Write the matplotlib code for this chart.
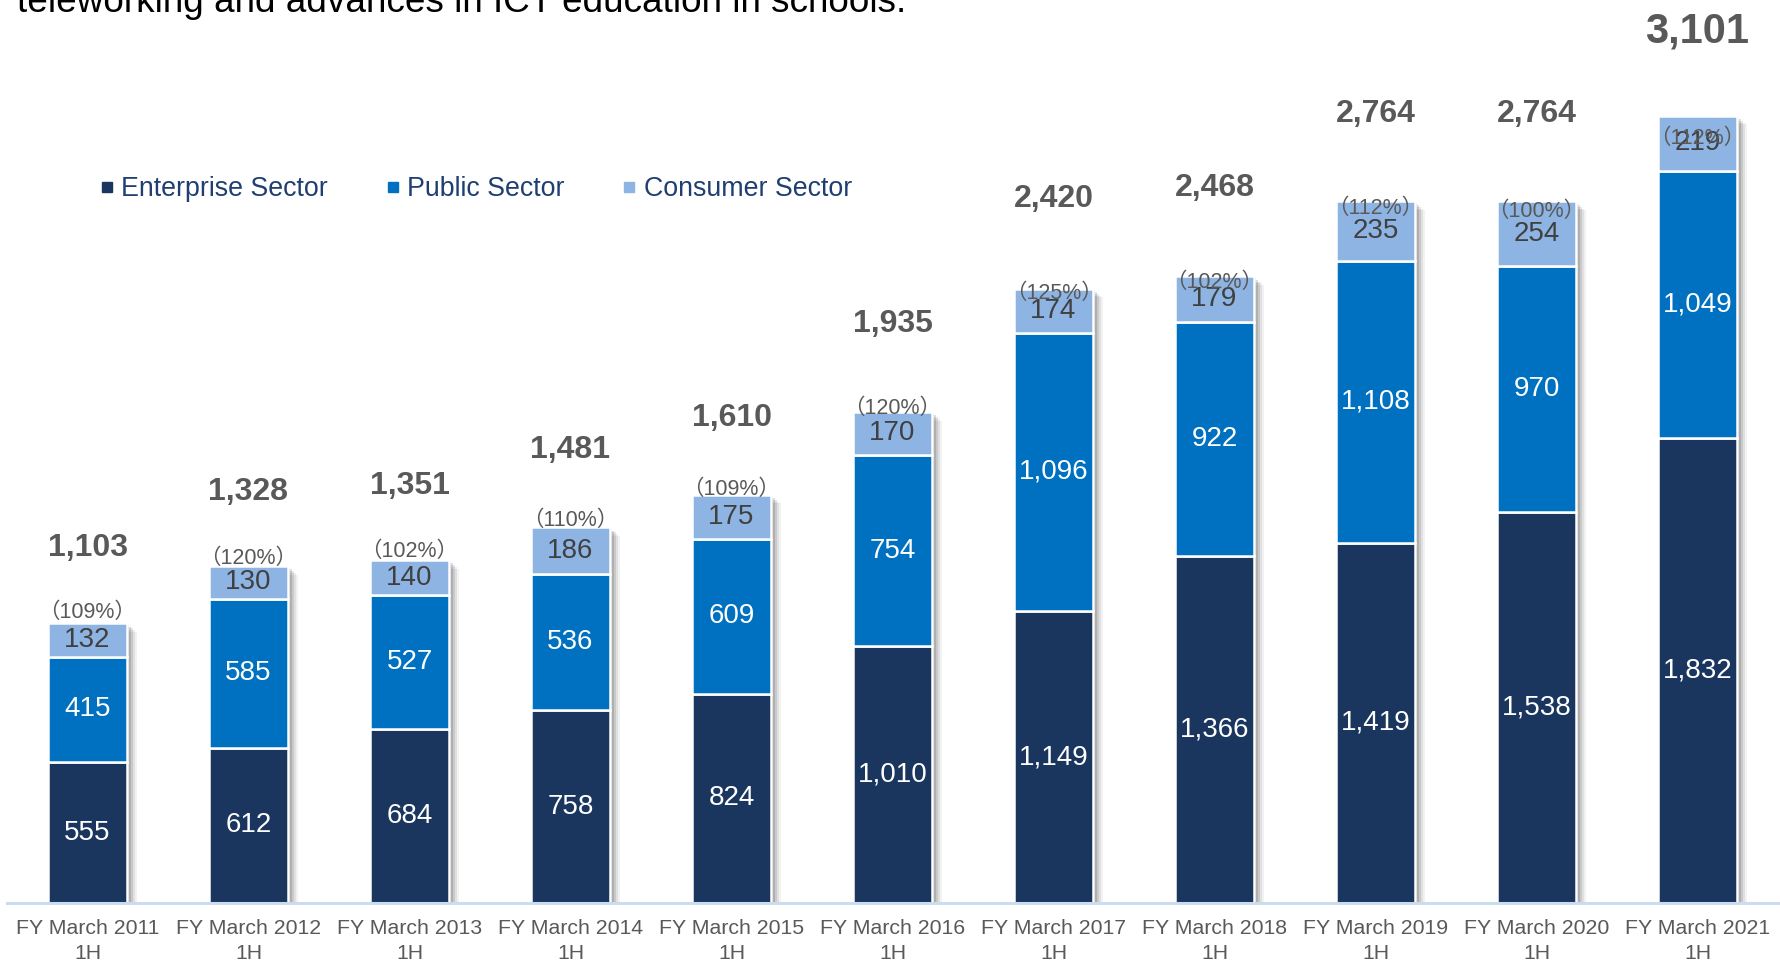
import numpy as np
import matplotlib
matplotlib.use('Agg')
import matplotlib.pyplot as plt
from matplotlib.lines import Line2D

# Half-year sales by sector (units as reported)
periods = ['FY March 2011', 'FY March 2012', 'FY March 2013', 'FY March 2014',
           'FY March 2015', 'FY March 2016', 'FY March 2017', 'FY March 2018',
           'FY March 2019', 'FY March 2020', 'FY March 2021']
enterprise = [555, 612, 684, 758, 824, 1010, 1149, 1366, 1419, 1538, 1832]
public = [415, 585, 527, 536, 609, 754, 1096, 922, 1108, 970, 1049]
consumer = [132, 130, 140, 186, 175, 170, 174, 179, 235, 254, 219]
totals = ['1,103', '1,328', '1,351', '1,481', '1,610', '1,935',
          '2,420', '2,468', '2,764', '2,764', '3,101']
yoy = ['109%', '120%', '102%', '110%', '109%', '120%',
       '125%', '102%', '112%', '100%', '112%']

# label layout, in pixels above the bar top
total_gap_px = [75, 74, 74, 77, 77, 88, 90, 88, 87, 87, 84]
yoy_gap_px = [11, 8, 8, 7, 5, 3, -5, -6, -7, -10, -23]

C_ENT = '#1b365e'
C_PUB = '#0070c0'
C_CON = '#8eb4e3'
GREY = '#595959'

plt.rcParams['font.family'] = ['Liberation Sans', 'Noto Sans CJK JP', 'DejaVu Sans']

W, H = 1781, 964
fig = plt.figure(figsize=(W / 100, H / 100), dpi=100)
ax = fig.add_axes([7 / W, 61 / H, 1771 / W, 889 / H])
ax.set_xlim(-0.5, 10.5)
ax.set_ylim(0, 3500)
ax.axis('off')

x = np.arange(len(periods))
width = 0.494
ent = np.array(enterprise)
pub = np.array(public)
con = np.array(consumer)
top = ent + pub + con

# soft drop shadow on the right of each column
px = 1 / 161.0
for k, a in [(10, 0.05), (8, 0.07), (6, 0.10), (4, 0.13), (2, 0.16)]:
    ax.bar(x + k * px, top - k * 3.5, width, bottom=0, color='black',
           alpha=a, linewidth=0, zorder=1)

ax.bar(x, ent, width, color=C_ENT, edgecolor='white', linewidth=1.8, zorder=2)
ax.bar(x, pub, width, bottom=ent, color=C_PUB, edgecolor='white', linewidth=1.8, zorder=2)
ax.bar(x, con, width, bottom=ent + pub, color=C_CON, edgecolor='white', linewidth=1.8, zorder=2)

ax.plot([-0.5, 10.5], [0, 0], color='#c9dcf0', lw=2.2, zorder=3, clip_on=False)

for i in x:
    ax.text(i, ent[i] / 2, f'{ent[i]:,}', ha='center', va='center',
            color='white', fontsize=20, zorder=4)
    ax.text(i, ent[i] + pub[i] / 2, f'{pub[i]:,}', ha='center', va='center',
            color='white', fontsize=20, zorder=4)
    ax.text(i, ent[i] + pub[i] + con[i] / 2, f'{con[i]:,}', ha='center', va='center',
            color='#404040', fontsize=20, zorder=4)
    ax.annotate(f'（{yoy[i]}）', (i, top[i]), xytext=(0, yoy_gap_px[i] * 0.72),
                textcoords='offset points', ha='center', va='center',
                color=GREY, fontsize=15.5, zorder=5)
    big = i == len(periods) - 1
    ax.annotate(totals[i], (i, top[i]), xytext=(0, total_gap_px[i] * 0.72),
                textcoords='offset points', ha='center', va='center',
                color=GREY, fontsize=30 if big else 23, fontweight='bold',
                annotation_clip=False)

# period labels under the baseline
for i, p in enumerate(periods):
    ax.text(i, -62, f'{p}\n1H', ha='center', va='top',
            color=GREY, fontsize=15.3, linespacing=1.42)

handles = [Line2D([], [], marker='s', ls='', color=c, markersize=6.5)
           for c in (C_ENT, C_PUB, C_CON)]
fig.legend(handles, ['Enterprise Sector', 'Public Sector', 'Consumer Sector'],
           loc='center left', bbox_to_anchor=(100 / W, 1 - 189 / H),
           ncol=3, frameon=False, borderaxespad=0, borderpad=0,
           handlelength=0.5, handletextpad=0.3, columnspacing=2.15,
           prop={'size': 19.3}, labelcolor='#1f3f73')

fig.text(17 / W, 1 - 12 / H, 'teleworking and advances in ICT education in schools.',
         ha='left', va='baseline', fontsize=26.6, color='black')

fig.savefig('out.png', dpi=100)
